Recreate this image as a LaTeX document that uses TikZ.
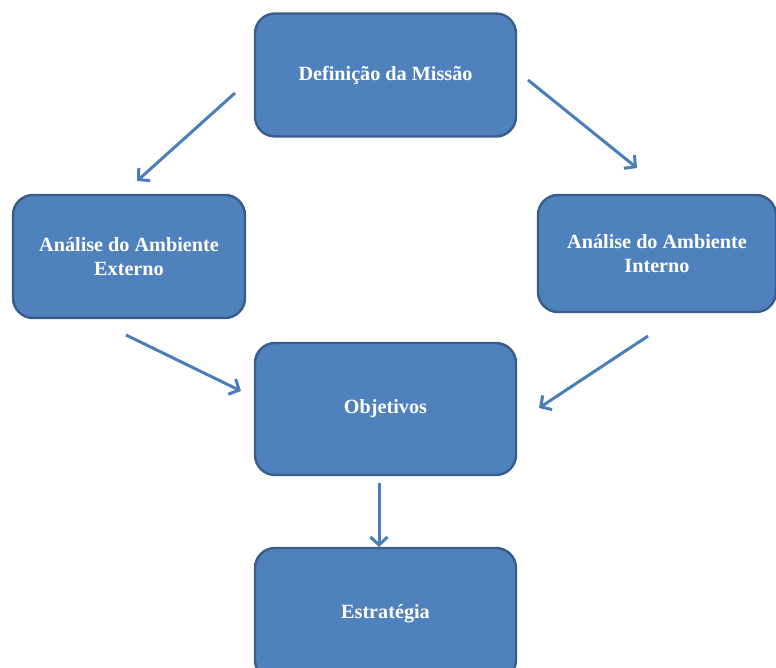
\documentclass[tikz,border=0pt]{standalone}
\usepackage{fontspec}
\setmainfont{Liberation Serif}
\usetikzlibrary{arrows.meta}
\definecolor{caixa}{HTML}{4F81BD}
\definecolor{borda}{HTML}{385D8A}
\definecolor{linha}{HTML}{4A7EBB}
\begin{document}
\begin{tikzpicture}[x=1pt, y=-1pt,
		bloco/.style={draw=borda, line width=2.4pt, fill=caixa, rounded corners=20pt, text=white, align=center, font=\fontsize{20.2}{24}\selectfont\bfseries},
		seta/.style={draw=linha, line width=3pt, -{Straight Barb[length=8pt, width=17pt]}}]
		\clip (0,0) rectangle (776,667);
		\node[bloco, minimum width=261pt, minimum height=123pt] (missao) at (385.5,75) {Definição da Missão};
		\node[bloco, minimum width=232pt, minimum height=123pt] (externo) at (129,256.5) {Análise do Ambiente\\Externo};
		\node[bloco, minimum width=238pt, minimum height=117pt] (interno) at (657,253.5) {Análise do Ambiente\\Interno};
		\node[bloco, minimum width=261pt, minimum height=132pt] (objetivos) at (385.5,409) {Objetivos};
		\node[bloco, minimum width=261pt, minimum height=132pt] (estrategia) at (385.5,614) {Estratégia};
		% pontas das setas
		\coordinate (m1) at (235,93);
		\coordinate (e1) at (137,181);
		\coordinate (m2) at (528,80);
		\coordinate (i1) at (637,168);
		\coordinate (e2) at (126,335);
		\coordinate (o1) at (241,391);
		\coordinate (i2) at (648,336);
		\coordinate (o2) at (539,408);
		\coordinate (o3) at (379,483);
		\coordinate (s1) at (379,547);
		\draw[seta] (m1) -- (e1);
		\draw[seta] (m2) -- (i1);
		\draw[seta] (e2) -- (o1);
		\draw[seta] (i2) -- (o2);
		\draw[seta] (o3) -- (s1);
	\end{tikzpicture}
\end{document}
